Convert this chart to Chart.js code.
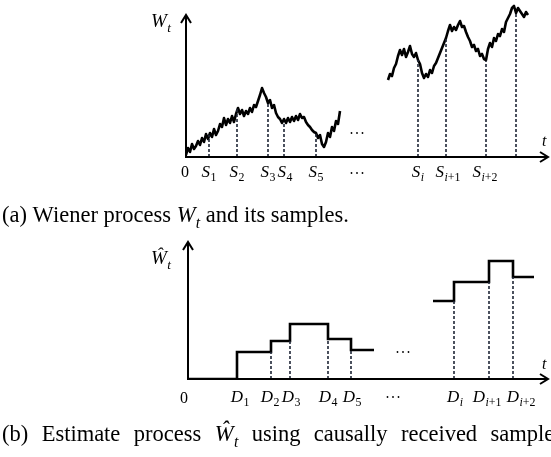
<!DOCTYPE html>
<html><head><meta charset="utf-8">
<script src="https://cdn.jsdelivr.net/npm/chart.js@4"></script>
<style>
html,body{margin:0;padding:0;background:#fff;}
#wrap{position:relative;width:551px;height:457px;overflow:hidden;}
canvas{position:absolute;left:0;top:0;}
</style></head><body>
<div id="wrap"><canvas id="a" width="551" height="457"></canvas><canvas id="b" width="551" height="457"></canvas></div>
<script>
// ---------- Panel (a): Wiener process ----------
const seg1T = [0.0,0.2,0.4,0.6,0.8,1.0,1.2,1.4,1.6,1.8,2.0,2.2,2.4,2.6,2.8,3.0,3.2,3.4,3.6,3.8,4.0,4.2,4.4,4.6,4.8,5.0,5.2,5.4,5.6,5.8,6.0,6.2,6.4,6.6,6.8,7.0,7.2,7.4,7.6,7.8,8.0,8.2,8.4,8.6,8.8,9.0,9.2,9.4,9.6,9.8,10.0,10.2,10.4,10.6,10.8,11.0,11.2,11.4,11.6,11.8,12.0,12.2,12.4,12.6,12.8,13.0,13.2,13.4,13.6,13.8,14.0,14.2,14.4,14.6,14.8,15.0,15.2,15.4];
const seg1W = [0.2,0.9,0.5,1.3,0.8,1.1,1.6,1.2,1.9,1.5,2.3,1.8,2.4,2.0,2.8,2.2,2.6,3.3,3.0,3.9,3.2,3.8,3.4,4.1,3.5,4.3,4.9,4.3,4.7,4.1,4.6,4.3,4.9,4.5,5.2,5.0,5.6,6.2,6.9,6.4,6.0,5.4,5.7,4.9,5.2,4.4,4.0,3.8,3.4,3.8,3.4,3.9,3.5,4.0,3.6,4.1,3.7,4.3,3.9,4.0,3.5,3.2,3.0,2.7,2.5,2.4,1.9,2.2,1.3,1.0,1.5,2.4,2.0,3.0,2.6,3.6,3.3,4.6];
const seg2T = [20.2,20.4,20.6,20.8,21.0,21.2,21.4,21.6,21.8,22.0,22.2,22.4,22.6,22.8,23.0,23.2,23.4,23.6,23.8,24.0,24.2,24.4,24.6,24.8,25.0,25.2,25.4,25.6,25.8,26.0,26.2,26.4,26.6,26.8,27.0,27.2,27.4,27.6,27.8,28.0,28.2,28.4,28.6,28.8,29.0,29.2,29.4,29.6,29.8,30.0,30.2,30.4,30.6,30.8,31.0,31.2,31.4,31.6,31.8,32.0,32.2,32.4,32.6,32.8,33.0,33.2,33.4,33.6,33.8,34.0,34.2];
const seg2W = [7.7,8.3,8.1,8.9,9.3,10.1,10.7,10.2,10.8,10.0,10.5,11.1,10.3,10.0,10.4,9.7,9.3,8.4,7.9,8.3,8.0,8.7,8.4,9.1,9.4,9.9,10.4,10.9,11.4,11.9,12.6,13.2,12.6,13.0,12.7,13.2,13.6,13.0,13.1,12.5,12.0,11.6,11.0,11.2,10.6,10.8,10.1,10.3,9.8,9.7,10.8,11.4,11.0,11.9,11.6,12.3,12.1,12.8,12.5,13.5,13.9,14.3,14.9,15.1,14.4,14.9,14.6,14.3,14.0,14.5,14.2];
const sampleT = [2.3,5.1,8.2,9.8,13.0,23.2,26.0,30.0,33.0];
const sampleW = [2.2,4.9,5.3,3.5,2.4,9.7,11.9,9.6,14.4];
const sampleLabels = [['S','1'],['S','2'],['S','3'],['S','4'],['S','5'],['S','i'],['S','i+1'],['S','i+2']];
const sampleLabelT = [2.3,5.1,8.2,9.9,13.0,23.2,26.2,29.9];
const dotsA = {t:17.1, w:2.4, labelT:17.1};

// ---------- Panel (b): estimate process ----------
const delivT = [4.9,8.3,10.2,14.0,16.3];
const delivW = [2.7,3.8,5.5,4.0,2.9];
const end1T = 18.6;
const start2T = 24.5, start2W = 7.8;
const delivT2 = [26.6,30.1,32.5];
const delivW2 = [9.7,11.8,10.2];
const end2T = 34.6;
const delivLabels = [['D','1'],['D','2'],['D','3'],['D','4'],['D','5'],['D','i'],['D','i+1'],['D','i+2']];
const delivLabelT = [5.2,8.2,10.3,14.0,16.4,26.7,29.9,33.3];
const dotsB = {t:21.5, w:2.7, labelT:20.5};

const captionA = ['(a) Wiener process', ['W','t'], 'and its samples.'];
const captionB = ['(b) Estimate process', ['\u0174','t'], 'using causally received samples'];

const SERIF = "'Liberation Serif','Times New Roman',serif";
const DASH = '#1e2636';

function mathWidth(ctx, base, sub, size){
  ctx.font = 'italic ' + size + 'px ' + SERIF; let w = ctx.measureText(base).width;
  if (sub){ w += 0.5; for (const ch of sub){ ctx.font = (/[a-z]/i.test(ch)?'italic ':'') + (size*0.7) + 'px ' + SERIF; w += ctx.measureText(ch).width; } }
  return w;
}
function drawMath(ctx, x, y, base, sub, size, align){
  const w = mathWidth(ctx, base, sub, size);
  let x0 = align==='left' ? x : x - w/2;
  ctx.textBaseline = 'alphabetic'; ctx.textAlign='left'; ctx.fillStyle='#000';
  ctx.font = 'italic ' + size + 'px ' + SERIF;
  ctx.fillText(base, x0, y);
  let sx = x0 + ctx.measureText(base).width + 0.5;
  if (sub){
    for (const ch of sub){
      ctx.font = (/[a-z]/i.test(ch)?'italic ':'') + (size*0.7) + 'px ' + SERIF;
      ctx.fillText(ch, sx, y + size*0.25);
      sx += ctx.measureText(ch).width;
    }
  }
  return w;
}

// caption drawn word by word; extra = additional space per gap
function drawCaption(ctx, parts, x, y, size, targetEnd){
  const tokens = [];
  parts.forEach(p=>{ if (Array.isArray(p)) tokens.push(p); else p.split(' ').forEach(w=>tokens.push(w)); });
  ctx.font = size + 'px ' + SERIF;
  const sp = ctx.measureText(' ').width;
  const widths = tokens.map(t=>{ if (Array.isArray(t)) return mathWidth(ctx, t[0], t[1], size); ctx.font = size + 'px ' + SERIF; return ctx.measureText(t).width; });
  const natural = widths.reduce((a,b)=>a+b,0) + sp*(tokens.length-1);
  const gap = targetEnd ? sp + (targetEnd - x - natural)/(tokens.length-1) : sp;
  let cx = x;
  tokens.forEach((t,i)=>{
    if (Array.isArray(t)) drawMath(ctx, cx, y, t[0], t[1], size, 'left');
    else { ctx.font = size + 'px ' + SERIF; ctx.textAlign='left'; ctx.fillStyle='#000'; ctx.fillText(t, cx, y); }
    cx += widths[i] + gap;
  });
}

function arrowAxes(chart, yTop){
  const {ctx, chartArea, scales:{x, y}} = chart;
  const ox = x.getPixelForValue(0), oy = y.getPixelForValue(0);
  const tx = chartArea.right, ty = y.getPixelForValue(yTop);
  ctx.save();
  ctx.strokeStyle = '#000'; ctx.lineWidth = 2; ctx.lineCap='butt';
  ctx.beginPath(); ctx.moveTo(ox, oy); ctx.lineTo(tx-1, oy); ctx.stroke();
  ctx.beginPath(); ctx.moveTo(ox, oy+1); ctx.lineTo(ox, ty+1); ctx.stroke();
  ctx.lineJoin='miter';
  ctx.beginPath(); ctx.moveTo(tx-8, oy-5); ctx.lineTo(tx, oy); ctx.lineTo(tx-8, oy+5); ctx.stroke();
  ctx.beginPath(); ctx.moveTo(ox-5, ty+8); ctx.lineTo(ox, ty); ctx.lineTo(ox+5, ty+8); ctx.stroke();
  ctx.restore();
}

function dots(ctx, cx, cy){
  ctx.fillStyle='#000';
  for (let k=-1;k<=1;k++){ ctx.beginPath(); ctx.arc(cx + k*5.5, cy, 0.9, 0, Math.PI*2); ctx.fill(); }
}

function lineDS(data, opt){
  return Object.assign({data, showLine:true, pointRadius:0, borderColor:'#000', borderWidth:2, fill:false, tension:0}, opt||{});
}

const baseOptions = (pad, xmax, ymax) => ({
  responsive:false, animation:false, devicePixelRatio:1,
  layout:{padding:pad},
  plugins:{legend:{display:false}, tooltip:{enabled:false}},
  scales:{
    x:{type:'linear', min:0, max:xmax, display:false},
    y:{type:'linear', min:0, max:ymax, display:false}
  }
});

// Panel A datasets
const dsA = [];
sampleT.forEach((t,i)=> dsA.push(lineDS([{x:t,y:0},{x:t,y:sampleW[i]}], {borderColor:DASH, borderWidth:1.6, borderDash:[3,2]})));
dsA.push(lineDS(seg1T.map((t,i)=>({x:t,y:seg1W[i]})), {borderWidth:2.6, borderJoinStyle:'round'}));
dsA.push(lineDS(seg2T.map((t,i)=>({x:t,y:seg2W[i]})), {borderWidth:2.6, borderJoinStyle:'round'}));

new Chart(document.getElementById('a'), {
  type:'scatter',
  data:{datasets:dsA},
  options: baseOptions({left:186, right:3, top:3, bottom:300}, 36.2, 15.4),
  plugins:[{id:'decoA', afterDraw(chart){
    const {ctx, chartArea, scales:{x,y}} = chart;
    arrowAxes(chart, 14.2);
    const oy = y.getPixelForValue(0);
    ctx.save();
    ctx.fillStyle='#000'; ctx.font = '16px ' + SERIF; ctx.textAlign='center'; ctx.textBaseline='alphabetic';
    ctx.fillText('0', x.getPixelForValue(0)-1, oy+20);
    sampleLabels.forEach((l,i)=> drawMath(ctx, x.getPixelForValue(sampleLabelT[i]), oy+20, l[0], l[1], 17));
    dots(ctx, x.getPixelForValue(dotsA.labelT), oy+16);
    dots(ctx, x.getPixelForValue(dotsA.t), y.getPixelForValue(dotsA.w));
    drawMath(ctx, chartArea.left-35, y.getPixelForValue(14.2)+12, 'W', 't', 19, 'left');
    drawMath(ctx, chartArea.right-6, oy-11, 't', '', 16, 'left');
    drawCaption(ctx, captionA, 2, 222, 22.5, 0);
    ctx.restore();
  }}]
});

// Panel B datasets
const stepPts1 = [{x:0,y:0}];
let prev = 0;
delivT.forEach((t,i)=>{ stepPts1.push({x:t,y:prev}); stepPts1.push({x:t,y:delivW[i]}); prev = delivW[i]; });
stepPts1.push({x:end1T,y:prev});
const stepPts2 = [{x:start2T,y:start2W}];
prev = start2W;
delivT2.forEach((t,i)=>{ stepPts2.push({x:t,y:prev}); stepPts2.push({x:t,y:delivW2[i]}); prev = delivW2[i]; });
stepPts2.push({x:end2T,y:prev});

const dsB = [];
const allT = delivT.concat(delivT2);
const allW = delivW.concat(delivW2);
const prevW = [0].concat(delivW.slice(0,4)).concat([start2W]).concat(delivW2.slice(0,2));
allT.forEach((t,i)=>{
  const top = Math.min(prevW[i], allW[i]);
  if (top>0) dsB.push(lineDS([{x:t,y:0},{x:t,y:top}], {borderColor:DASH, borderWidth:1.6, borderDash:[3,2]}));
});
dsB.push(lineDS(stepPts1, {borderWidth:2.6, borderJoinStyle:'miter'}));
dsB.push(lineDS(stepPts2, {borderWidth:2.6, borderJoinStyle:'miter'}));

new Chart(document.getElementById('b'), {
  type:'scatter',
  data:{datasets:dsB},
  options: baseOptions({left:188, right:3, top:230, bottom:78}, 36.0, 14.9),
  plugins:[{id:'decoB', afterDraw(chart){
    const {ctx, chartArea, scales:{x,y}} = chart;
    arrowAxes(chart, 13.7);
    const oy = y.getPixelForValue(0);
    ctx.save();
    ctx.fillStyle='#000'; ctx.font = '16px ' + SERIF; ctx.textAlign='center'; ctx.textBaseline='alphabetic';
    ctx.fillText('0', x.getPixelForValue(0)-4, oy+24);
    delivLabels.forEach((l,i)=> drawMath(ctx, x.getPixelForValue(delivLabelT[i]), oy+23, l[0], l[1], 17));
    dots(ctx, x.getPixelForValue(dotsB.labelT), oy+18);
    dots(ctx, x.getPixelForValue(dotsB.t), y.getPixelForValue(dotsB.w));
    drawMath(ctx, chartArea.left-37, y.getPixelForValue(13.7)+22, '\u0174', 't', 19, 'left');
    drawMath(ctx, chartArea.right-6, oy-10, 't', '', 16, 'left');
    drawCaption(ctx, captionB, 2, 441, 22.5, 563);
    ctx.restore();
  }}]
});
</script>
</body></html>
